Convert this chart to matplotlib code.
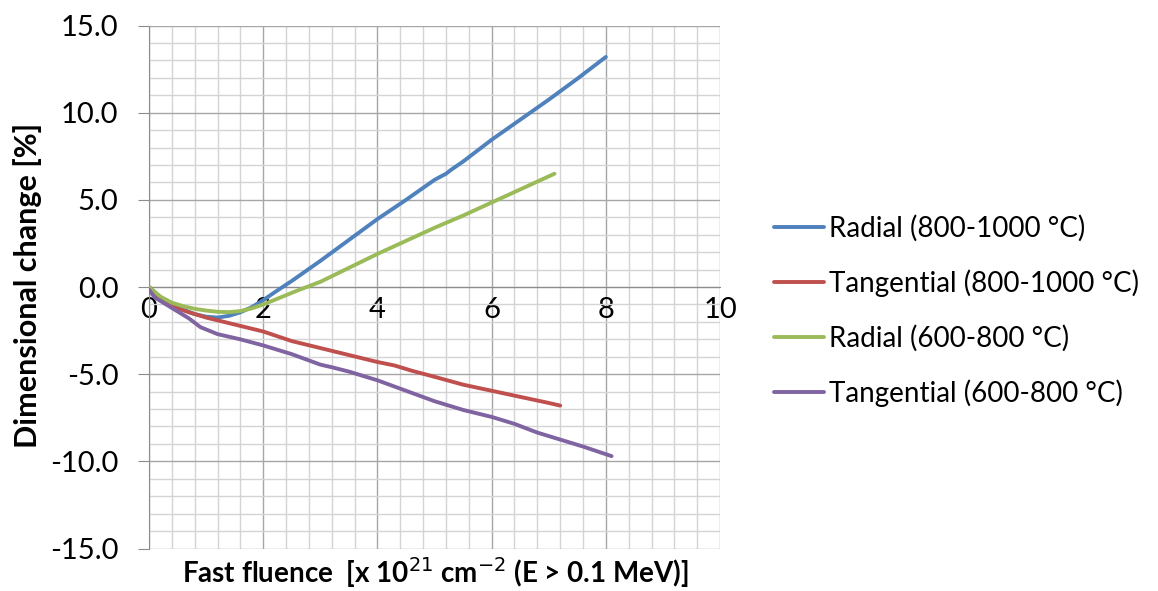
import matplotlib.pyplot as plt
from matplotlib.ticker import MultipleLocator, FormatStrFormatter

# dimensional change vs fast fluence, four measured series
radial_hi_x = [0, 0.2, 0.4, 0.6, 0.8, 1.0, 1.2, 1.4, 1.6, 1.8, 2.0, 2.2, 2.5, 3.0,
               3.5, 4.0, 4.5, 5.0, 5.2, 5.3, 5.5, 6.0, 6.5, 7.0, 7.5, 8.0]
radial_hi_y = [0, -0.6, -1.0, -1.3, -1.55, -1.7, -1.75, -1.65, -1.45, -1.15, -0.75,
               -0.3, 0.35, 1.5, 2.7, 3.9, 5.0, 6.15, 6.5, 6.75, 7.2, 8.45, 9.6, 10.75,
               11.95, 13.2]

tang_hi_x = [0, 0.2, 0.4, 0.7, 1.0, 1.5, 2.0, 2.5, 3.0, 3.5, 4.0, 4.3, 4.6, 5.0,
             5.5, 6.0, 6.5, 7.0, 7.2]
tang_hi_y = [0, -0.65, -1.1, -1.45, -1.75, -2.15, -2.55, -3.1, -3.5, -3.9, -4.3,
             -4.5, -4.8, -5.15, -5.6, -5.95, -6.3, -6.65, -6.8]

radial_lo_x = [0, 0.2, 0.4, 0.6, 0.8, 1.0, 1.2, 1.4, 1.6, 1.8, 2.0, 2.3, 2.6, 3.0,
               3.5, 4.0, 4.5, 5.0, 5.5, 6.0, 6.5, 7.0, 7.1]
radial_lo_y = [0, -0.55, -0.9, -1.1, -1.25, -1.35, -1.42, -1.44, -1.38, -1.22, -1.0,
               -0.6, -0.2, 0.3, 1.1, 1.9, 2.65, 3.4, 4.1, 4.85, 5.6, 6.35, 6.5]

tang_lo_x = [0, 0.1, 0.3, 0.5, 0.7, 0.9, 1.2, 1.6, 2.0, 2.5, 3.0, 3.2, 3.5, 4.0,
             4.5, 5.0, 5.5, 6.0, 6.4, 6.8, 7.2, 7.6, 8.1]
tang_lo_y = [-0.15, -0.6, -1.0, -1.4, -1.8, -2.3, -2.7, -3.0, -3.35, -3.85, -4.45,
             -4.6, -4.85, -5.35, -5.95, -6.55, -7.05, -7.45, -7.85, -8.35, -8.75,
             -9.15, -9.7]

labels = ["Radial (800-1000 °C)", "Tangential (800-1000 °C)",
          "Radial (600-800 °C)", "Tangential (600-800 °C)"]
colors = ["#4F81BD", "#C0504D", "#9BBB59", "#8064A2"]

plt.rcParams['font.family'] = ['Lato', 'DejaVu Sans']

fig = plt.figure(figsize=(11.58, 5.91), dpi=100)
ax = fig.add_axes([0.1287, 0.0719, 0.4931, 0.8848])

series = [(radial_hi_x, radial_hi_y), (tang_hi_x, tang_hi_y),
          (radial_lo_x, radial_lo_y), (tang_lo_x, tang_lo_y)]
for (xs, ys), lab, c in zip(series, labels, colors):
    ax.plot(xs, ys, color=c, lw=2.8, label=lab, solid_capstyle='round', zorder=3)

ax.set_xlim(0, 10)
ax.set_ylim(-15, 15)
ax.xaxis.set_major_locator(MultipleLocator(2))
ax.xaxis.set_minor_locator(MultipleLocator(0.4))
ax.yaxis.set_major_locator(MultipleLocator(5))
ax.yaxis.set_minor_locator(MultipleLocator(1))
ax.yaxis.set_major_formatter(FormatStrFormatter('%.1f'))

ax.grid(which='minor', color='#d4d4d4', lw=1.0)
ax.grid(which='major', color='#a6a6a6', lw=1.0)
ax.set_axisbelow(True)

for s in ['top', 'right']:
    ax.spines[s].set_visible(False)
ax.spines['bottom'].set_position(('data', 0))
ax.spines['bottom'].set_color('#8c8c8c')
ax.spines['left'].set_color('#8c8c8c')

ax.tick_params(axis='x', which='both', length=0, pad=7, labelsize=21)
ax.tick_params(axis='y', which='major', length=8, color='#8c8c8c', pad=14, labelsize=21)
ax.tick_params(axis='y', which='minor', length=0)

ax.set_ylabel("Dimensional change [%]", fontsize=22, fontweight='bold')
ax.yaxis.set_label_coords(-0.187, 0.504)
fig.text(0.3756, 0.032, r"Fast fluence  [x 10$^{21}$ cm$^{-2}$ (E > 0.1 MeV)]",
         ha='center', va='center', fontsize=20, fontweight='bold')

fig.legend(loc='center left', bbox_to_anchor=(0.6465, 0.474), frameon=False,
           fontsize=20, handlelength=1.8, handletextpad=0.2, labelspacing=1.0)

fig.savefig("out.png", dpi=100)
